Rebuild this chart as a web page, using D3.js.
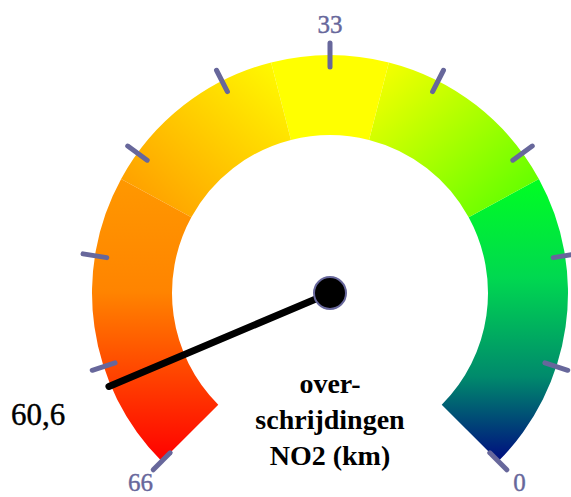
<!DOCTYPE html>
<html>
<head>
<meta charset="utf-8">
<script src="https://cdn.jsdelivr.net/npm/d3@7"></script>
<style>
  html, body { margin: 0; padding: 0; background: #fff; }
  svg { display: block; }
</style>
</head>
<body>
<svg id="gauge" width="571" height="497"></svg>
<script>
// Gauge range and current reading
const scaleMin = 0;
const scaleMax = 66;
const currentValue = 60.6;
const valueLabel = "60,6";
const titleLines = ["over-", "schrijdingen", "NO2 (km)"];

// Tick marks and which ones carry a label
const tickValues = [0, 6.6, 13.2, 19.8, 26.4, 33, 39.6, 46.2, 52.8, 59.4, 66];
const labelledTicks = [0, 33, 66];

// Colour bands along the dial (from, to)
const bandFrom = [0, 18, 29.5, 36.5, 48];
const bandTo = [18, 29.5, 36.5, 48, 66];

// Gradient stops per band: [offset, colour]
const bandStops = [
  [[0, "#00ff22"], [0.35, "#00d850"], [0.7, "#008a6c"], [1, "#000c80"]],
  [[0, "#ffff00"], [1, "#50ff00"]],
  [[0, "#ffff00"], [1, "#ffff00"]],
  [[0, "#ff9400"], [1, "#ffff00"]],
  [[0, "#ff9800"], [0.4, "#ff8400"], [1, "#ff0000"]]
];
// Gradient direction per band (objectBoundingBox units)
const bandDirs = [
  { x1: 0, y1: 0, x2: 0, y2: 1 },
  { x1: 0, y1: 0, x2: 1, y2: 1 },
  { x1: 0, y1: 0, x2: 0, y2: 1 },
  { x1: 0, y1: 1, x2: 1, y2: 0 },
  { x1: 0, y1: 0, x2: 0, y2: 1 }
];

const cx = 330, cy = 293;
const rOuter = 238, rInner = 158;
const tickIn = 226, tickOut = 250, labelR = 268, needleR = 240;
const fontFamily = "'Liberation Serif', 'DejaVu Serif', serif";
const tickColor = "#67679b";

const svg = d3.select("#gauge");
const defs = svg.append("defs");

// High values sit at the lower left, zero at the lower right
const angle = d3.scaleLinear()
  .domain([scaleMax, scaleMin])
  .range([-135 * Math.PI / 180, 135 * Math.PI / 180]);

const g = svg.append("g").attr("transform", `translate(${cx},${cy})`);

const arc = d3.arc().innerRadius(rInner).outerRadius(rOuter);

bandFrom.forEach((from, i) => {
  const grad = defs.append("linearGradient")
    .attr("id", "band" + i)
    .attr("x1", bandDirs[i].x1).attr("y1", bandDirs[i].y1)
    .attr("x2", bandDirs[i].x2).attr("y2", bandDirs[i].y2);
  bandStops[i].forEach(s => {
    grad.append("stop").attr("offset", s[0]).attr("stop-color", s[1]);
  });
  const a0 = angle(bandTo[i]);
  const a1 = angle(from);
  g.append("path")
    .attr("d", arc({ startAngle: a0, endAngle: a1 }))
    .attr("fill", `url(#band${i})`);
});

// Tick marks straddling the outer edge
const polar = (r, a) => [r * Math.sin(a), -r * Math.cos(a)];
g.selectAll("line.tick")
  .data(tickValues)
  .join("line")
  .attr("class", "tick")
  .attr("x1", d => polar(tickIn, angle(d))[0])
  .attr("y1", d => polar(tickIn, angle(d))[1])
  .attr("x2", d => polar(tickOut, angle(d))[0])
  .attr("y2", d => polar(tickOut, angle(d))[1])
  .attr("stroke", tickColor)
  .attr("stroke-width", 5)
  .attr("stroke-linecap", "round");

g.selectAll("text.tlabel")
  .data(labelledTicks)
  .join("text")
  .attr("class", "tlabel")
  .attr("x", d => polar(labelR, angle(d))[0])
  .attr("y", d => polar(labelR, angle(d))[1])
  .attr("dy", "0.33em")
  .attr("text-anchor", "middle")
  .attr("font-family", fontFamily)
  .attr("font-size", 25)
  .attr("fill", tickColor)
  .attr("stroke", tickColor)
  .attr("stroke-width", 0.4)
  .text(d => d);

// Needle
const tip = polar(needleR, angle(currentValue));
g.append("line")
  .attr("x1", 0).attr("y1", 0)
  .attr("x2", tip[0]).attr("y2", tip[1])
  .attr("stroke", "#000")
  .attr("stroke-width", 7)
  .attr("stroke-linecap", "round");

g.append("circle")
  .attr("r", 16)
  .attr("fill", "#000")
  .attr("stroke", tickColor)
  .attr("stroke-width", 2);

// Reading next to the needle tip
svg.append("text")
  .attr("x", 38).attr("y", 425)
  .attr("text-anchor", "middle")
  .attr("font-family", fontFamily)
  .attr("font-size", 31)
  .attr("fill", "#000")
  .attr("stroke", "#000")
  .attr("stroke-width", 0.4)
  .text(valueLabel);

// Title in the open part of the dial
svg.append("g")
  .selectAll("text")
  .data(titleLines)
  .join("text")
  .attr("x", cx)
  .attr("y", (d, i) => 393 + i * 36)
  .attr("text-anchor", "middle")
  .attr("font-family", fontFamily)
  .attr("font-weight", "bold")
  .attr("font-size", 28)
  .attr("fill", "#000")
  .text(d => d);
</script>
</body>
</html>
